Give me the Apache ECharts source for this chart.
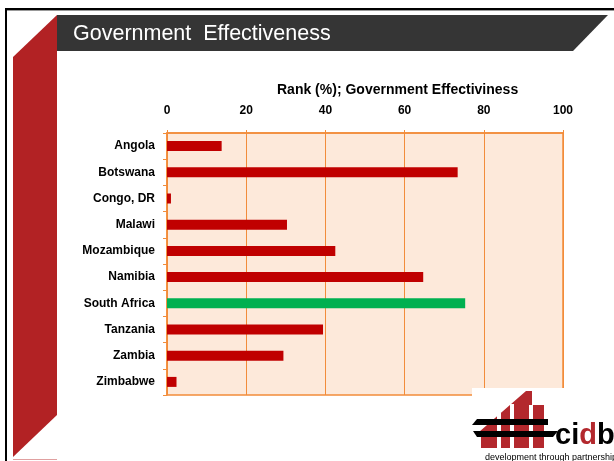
<!DOCTYPE html>
<html>
<head>
<meta charset="utf-8">
<script src="https://cdn.jsdelivr.net/npm/echarts@6/dist/echarts.min.js"></script>
<style>
  html, body { margin: 0; padding: 0; background: #fff; }
  #chart { width: 614px; height: 461px; }
</style>
</head>
<body>
<div id="chart"></div>
<script>
var countries = ['Angola', 'Botswana', 'Congo, DR', 'Malawi', 'Mozambique', 'Namibia', 'South Africa', 'Tanzania', 'Zambia', 'Zimbabwe']
var ranks = [13.8, 73.4, 1.0, 30.3, 42.5, 64.7, 75.3, 39.4, 29.4, 2.4]
var xTicks = [0, 20, 40, 60, 80, 100]
var highlight = 'South Africa'

var orange = '#F28C3A'
var chart = echarts.init(document.getElementById('chart'))

chart.setOption({
  animation: false,
  title: {
    text: 'Rank (%); Government Effectiviness',
    left: 272,
    top: 78,
    textStyle: { fontFamily: 'Liberation Sans', fontSize: 14, fontWeight: 'bold', color: '#000' }
  },
  grid: {
    left: 167,
    right: 51,
    top: 133,
    bottom: 66,
    show: true,
    backgroundColor: '#FDE9DA',
    borderColor: orange,
    borderWidth: 1.5
  },
  xAxis: {
    type: 'value',
    position: 'top',
    min: xTicks[0],
    max: xTicks[xTicks.length - 1],
    interval: 20,
    axisLine: { show: true, lineStyle: { color: orange, width: 1.5 } },
    axisTick: { show: true, length: 3, lineStyle: { color: orange } },
    axisLabel: { margin: 16, color: '#000', fontFamily: 'Liberation Sans', fontSize: 12, fontWeight: 'bold' },
    splitLine: { show: true, lineStyle: { color: orange, width: 1 } }
  },
  yAxis: {
    type: 'category',
    inverse: true,
    data: countries,
    axisLine: { show: true, lineStyle: { color: orange, width: 1.5 } },
    axisTick: { show: true, length: 4, lineStyle: { color: orange } },
    axisLabel: { margin: 12, color: '#000', fontFamily: 'Liberation Sans', fontSize: 12, fontWeight: 'bold' }
  },
  series: [{
    type: 'bar',
    barWidth: 10,
    data: ranks.map(function(v, i) {
      return {
        value: v,
        itemStyle: { color: countries[i] === highlight ? '#00B050' : '#C00000' }
      }
    })
  }],
  graphic: [
    // frame
    { type: 'rect', shape: { x: 5, y: 8, width: 609, height: 2 }, style: { fill: '#000' }, z: 50 },
    { type: 'rect', shape: { x: 5, y: 10, width: 609, height: 1 }, style: { fill: '#999' }, z: 50 },
    { type: 'rect', shape: { x: 5, y: 8, width: 2, height: 453 }, style: { fill: '#000' }, z: 50 },
    // red side strip
    { type: 'polygon', shape: { points: [[13, 57], [57, 15], [57, 415], [13, 457]] }, style: { fill: '#B22224' }, z: 50 },
    { type: 'rect', shape: { x: 13, y: 459, width: 44, height: 1 }, style: { fill: '#E0A0A0' }, z: 50 },
    // header bar
    { type: 'polygon', shape: { points: [[57, 15], [608, 15], [573, 51], [57, 51]] }, style: { fill: '#353535' }, z: 50 },
    {
      type: 'text', x: 73, y: 34, z: 51,
      style: { text: 'Government  Effectiveness', fill: '#fff', font: '21.5px "Liberation Sans"', textVerticalAlign: 'middle' }
    },
    // logo
    { type: 'rect', shape: { x: 472, y: 388, width: 142, height: 73 }, style: { fill: '#fff' }, z: 60 },
    { type: 'polygon', shape: { points: [[479, 432], [526, 391], [532, 391], [532, 405], [544, 405], [544, 448], [481, 448], [481, 432]] }, style: { fill: '#B3282D' }, z: 61 },
    { type: 'rect', shape: { x: 497, y: 413, width: 4, height: 35 }, style: { fill: '#fff' }, z: 62 },
    { type: 'rect', shape: { x: 510, y: 404, width: 4, height: 44 }, style: { fill: '#fff' }, z: 62 },
    { type: 'rect', shape: { x: 529, y: 405, width: 4, height: 43 }, style: { fill: '#fff' }, z: 62 },
    { type: 'polygon', shape: { points: [[477, 419], [548, 419], [548, 425], [472, 425]] }, style: { fill: '#000' }, z: 63 },
    { type: 'polygon', shape: { points: [[473, 431], [558, 431], [553, 437], [477, 437]] }, style: { fill: '#000' }, z: 63 },
    {
      type: 'text', x: 555, y: 450, z: 63,
      style: {
        text: 'ci{d|d}b',
        fill: '#000',
        font: 'bold 29px "Liberation Sans"',
        textVerticalAlign: 'bottom',
        rich: { d: { fill: '#B3282D', font: 'bold 29px "Liberation Sans"' } }
      }
    },
    {
      type: 'text', x: 485, y: 458, z: 63,
      style: { text: 'development through partnership', fill: '#000', font: '9px "Liberation Sans"', textVerticalAlign: 'middle' }
    }
  ]
})
</script>
</body>
</html>
